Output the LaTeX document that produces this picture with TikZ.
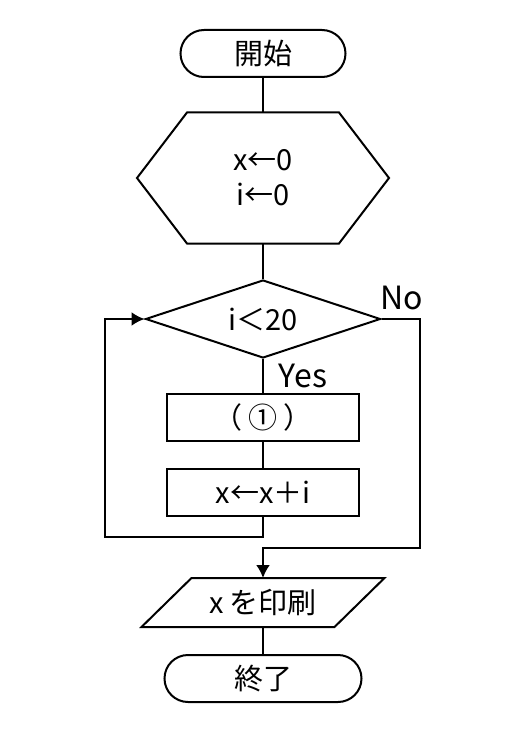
\documentclass[tikz,border=0pt]{standalone}
\usepackage{fontspec}
\setmainfont{Noto Sans CJK JP}
\usetikzlibrary{shapes.geometric,arrows.meta}
\begin{document}
\begin{tikzpicture}[x=0.5pt,y=-0.5pt,line width=1pt,
        >={Latex[length=6.5pt,width=7pt]},
        every node/.style={inner sep=0pt,font=\fontsize{14.5pt}{17.5pt}\selectfont},
        term/.style={draw,rectangle,rounded corners=11.75pt,minimum height=23.5pt},
        proc/.style={draw,rectangle,minimum width=96pt,minimum height=23.5pt},
        lbl/.style={font=\fontsize{16pt}{18pt}\selectfont}]
    \useasboundingbox (0,0) rectangle (528,754);
    \node[term,minimum width=82.5pt] (start) at (263,53.5) {開始};
    \node[minimum width=125pt,minimum height=64.5pt,align=center] (init) at (263,178) {x←0\\i←0};
    \draw ([xshift=25pt]init.north west) -- ([xshift=-25pt]init.north east) -- (init.east)
        -- ([xshift=-25pt]init.south east) -- ([xshift=25pt]init.south west) -- (init.west) -- cycle;
    \node[draw,diamond,aspect=3,minimum width=117.5pt,minimum height=39pt] (cond) at (263,319) {i＜20};
    \node[proc] (blank) at (263,417.5) {（ ① ）};
    \node[proc] (add) at (263,492.5) {x←x＋i};
    \node[minimum width=120.5pt,minimum height=23.5pt] (print) at (263,602.5) {x を印刷};
    \draw ([xshift=25pt]print.north west) -- (print.north east)
        -- ([xshift=-25pt]print.south east) -- (print.south west) -- cycle;
    \node[term,minimum width=98.5pt] (stop) at (263,678.5) {終了};
    \node[lbl] (no) at (402,298) {No};
    \node[lbl] (yes) at (303,376) {Yes};
    \coordinate (loopL) at (105,537);
    \coordinate (noR) at (420,548);
    \coordinate (noL) at (263,548);
    \draw (start) -- (init);
    \draw (init) -- (cond);
    \draw (cond) -- (blank);
    \draw (blank) -- (add);
    \draw[->] (add.south) |- (loopL) |- (cond.west);
    \draw[->] (cond.east) -| (noR) -- (noL) -- (print.north);
    \draw (print) -- (stop);
\end{tikzpicture}
\end{document}
